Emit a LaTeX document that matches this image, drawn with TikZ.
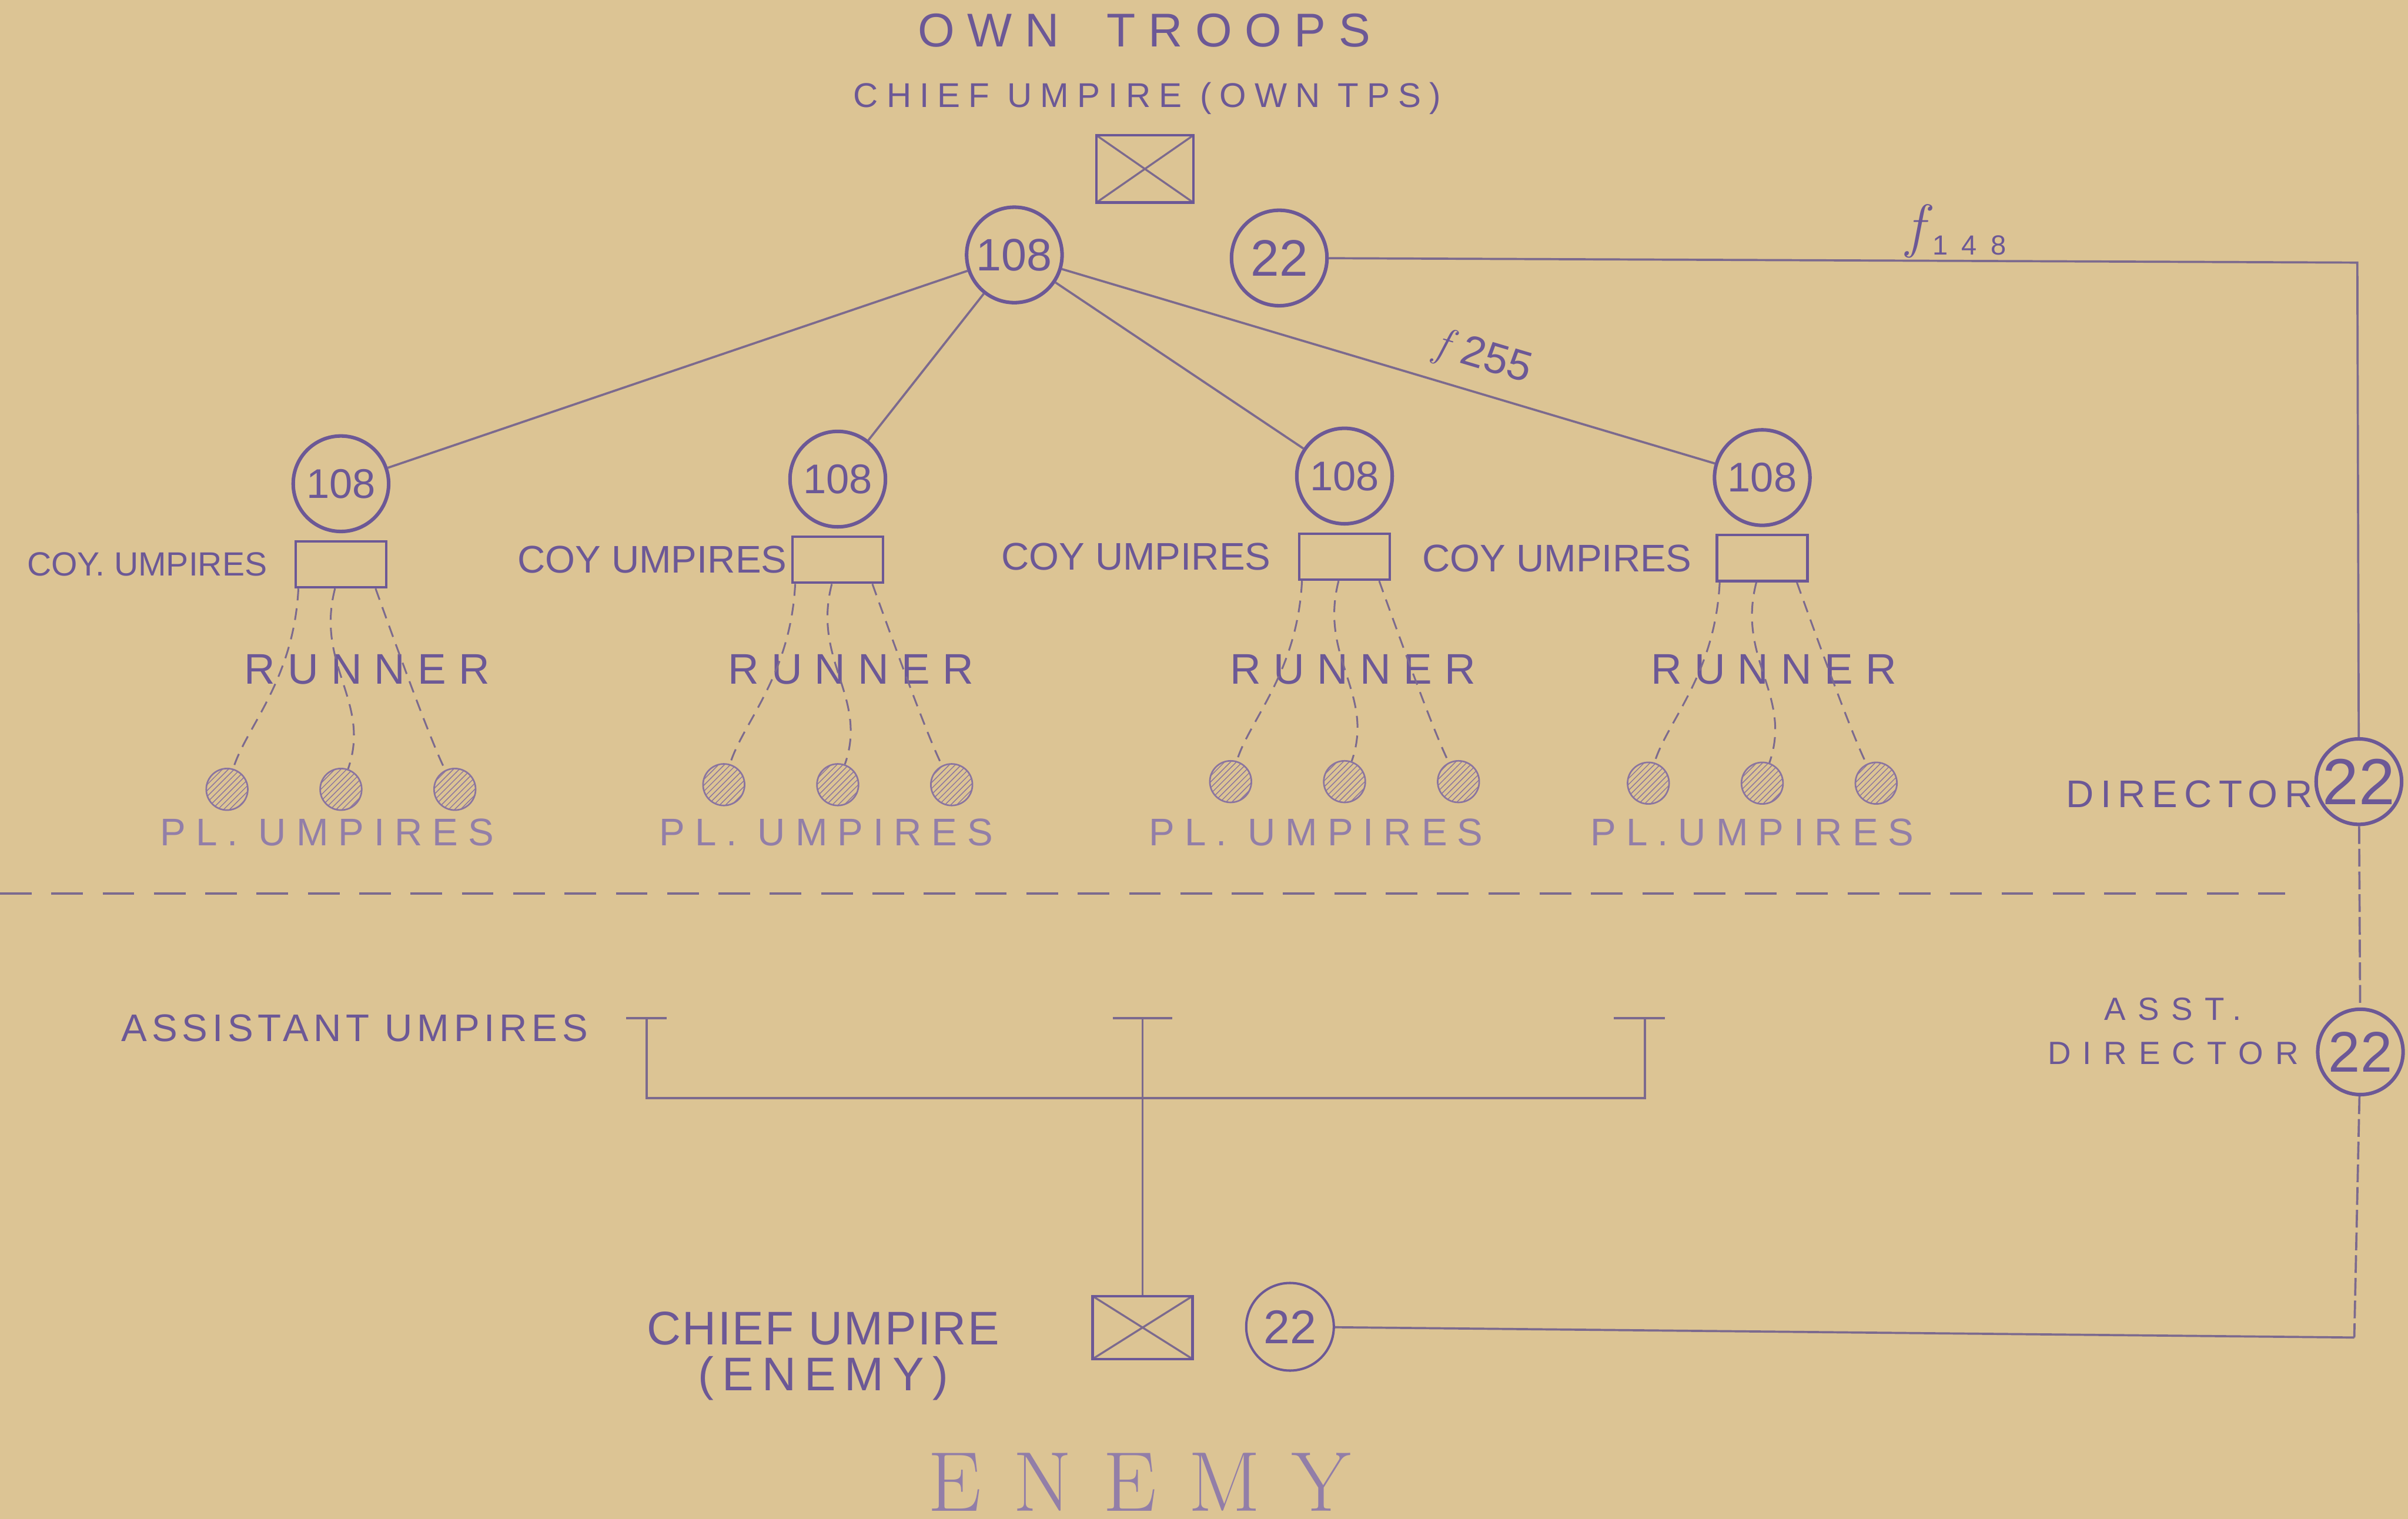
\documentclass[tikz,border=0pt]{standalone}
\usepackage{fontspec}
\usetikzlibrary{calc,positioning,shapes.geometric,patterns}
\newfontfamily\letterfont{Liberation Sans}
\definecolor{paperColor}{RGB}{220,196,148}
\definecolor{inkColor}{RGB}{108,88,150}
\definecolor{lineColor}{RGB}{124,106,142}
\definecolor{hatchColor}{RGB}{138,116,160}
\definecolor{fadeColor}{RGB}{146,126,168}
\newcommand{\headfont}{\letterfont\fontsize{24}{26}\selectfont\addfontfeature{LetterSpace=27}}
\newcommand{\chieffont}{\letterfont\fontsize{17.4}{20}\selectfont\addfontfeature{LetterSpace=24}}
\newcommand{\coyfont}{\letterfont\fontsize{19.5}{22}\selectfont}
\newcommand{\runnerfont}{\letterfont\fontsize{21.7}{24}\selectfont\addfontfeature{LetterSpace=29}}
\newcommand{\plfont}{\letterfont\fontsize{19.5}{22}\selectfont\addfontfeature{LetterSpace=26}}
\newcommand{\dirfont}{\letterfont\fontsize{19.5}{22}\selectfont\addfontfeature{LetterSpace=17}}
\newcommand{\asstfont}{\letterfont\fontsize{16.3}{22.6}\selectfont\addfontfeature{LetterSpace=37}}
\newcommand{\aufont}{\letterfont\fontsize{19.5}{22}\selectfont\addfontfeature{LetterSpace=12}}
\newcommand{\enemyfont}{\letterfont\fontsize{23.9}{23.3}\selectfont\addfontfeature{LetterSpace=3}}
\newcommand{\bigenemyfont}{\rmfamily\fontsize{43}{45}\selectfont}
\newcommand{\unitsize}[1]{\letterfont\fontsize{#1}{#1}\selectfont}
\newcommand{\freqf}{{\rmfamily\itshape f\/}}

\begin{document}
\begin{tikzpicture}[x=0.02735cm, y=-0.02735cm,
    unit/.style={circle, draw=inkColor, line width=1.8pt, inner sep=0pt, text=inkColor},
    hqbox/.style={draw=inkColor, line width=1.3pt, minimum width=1.73cm, minimum height=1.2cm,
      path picture={\draw[lineColor, line width=1pt] (path picture bounding box.north west) -- (path picture bounding box.south east)
        (path picture bounding box.north east) -- (path picture bounding box.south west);}},
    coybox/.style={draw=inkColor, line width=1.3pt, minimum width=1.61cm, minimum height=0.82cm},
    plumpire/.style={circle, draw=hatchColor, line width=0.8pt, pattern=north east lines, pattern color=hatchColor, minimum size=0.74cm},
    lbl/.style={text=inkColor, inner sep=0pt},
    link/.style={draw=lineColor, line width=1.1pt},
    runline/.style={draw=lineColor, line width=0.9pt, dash pattern=on 6pt off 4pt},
    relay/.style={draw=lineColor, line width=1.1pt, dash pattern=on 9pt off 2.5pt},
    sepline/.style={draw=lineColor, line width=1.2pt, dash pattern=on 16pt off 10pt}
  ]
  \path[use as bounding box, fill=paperColor] (0,0) rectangle (1568,989);

  % own troops
  \node[lbl, font=\headfont] (owntitle) at (745,20) {OWN\hspace{1em}TROOPS};
  \node[lbl, font=\chieffont] (chieftitle) at (747,64) {CHIEF UMPIRE (OWN TPS)};
  \node[hqbox] (cuown) at (745.5,110) {};
  \node[unit, minimum size=1.7cm, font=\unitsize{23}] (hq108) at (660.5,166) {108};
  \node[unit, minimum size=1.7cm, font=\unitsize{26}] (hq22) at (833,168) {22};

  % companies
  \node[unit, minimum size=1.7cm, font=\unitsize{21}] (coy1) at (222,315) {108};
  \node[coybox, below=0.12cm of coy1] (coyump1) {};
  \node[lbl, font=\coyfont\fontsize{17}{20}\selectfont, left=0.48cm of coyump1] (coylbl1) {COY. UMPIRES};
  \node[lbl, font=\runnerfont] (run1) at (239,436) {RUNNER};
  \node[plumpire, below=3.19cm of coyump1] (pl1b) {};
  \node[plumpire, left=1.26cm of pl1b] (pl1a) {};
  \node[plumpire, right=1.26cm of pl1b] (pl1c) {};
  \node[lbl, text=fadeColor, font=\plfont] (pllbl1) at (213,542) {PL. UMPIRES};

  \node[unit, minimum size=1.7cm, font=\unitsize{21}] (coy2) at (545.5,312) {108};
  \node[coybox, below=0.12cm of coy2] (coyump2) {};
  \node[lbl, font=\coyfont, left=0.07cm of coyump2] (coylbl2) {COY UMPIRES};
  \node[lbl, font=\runnerfont] (run2) at (554,436) {RUNNER};
  \node[plumpire, below=3.19cm of coyump2] (pl2b) {};
  \node[plumpire, left=1.26cm of pl2b] (pl2a) {};
  \node[plumpire, right=1.26cm of pl2b] (pl2c) {};
  \node[lbl, text=fadeColor, font=\plfont] (pllbl2) at (538,542) {PL. UMPIRES};

  \node[unit, minimum size=1.7cm, font=\unitsize{21}] (coy3) at (875.5,310) {108};
  \node[coybox, below=0.12cm of coy3] (coyump3) {};
  \node[lbl, font=\coyfont, left=0.48cm of coyump3] (coylbl3) {COY UMPIRES};
  \node[lbl, font=\runnerfont] (run3) at (881,436) {RUNNER};
  \node[plumpire, below=3.19cm of coyump3] (pl3b) {};
  \node[plumpire, left=1.26cm of pl3b] (pl3a) {};
  \node[plumpire, right=1.26cm of pl3b] (pl3c) {};
  \node[lbl, text=fadeColor, font=\plfont] (pllbl3) at (857,542) {PL. UMPIRES};

  \node[unit, minimum size=1.7cm, font=\unitsize{21}] (coy4) at (1147.5,311) {108};
  \node[coybox, below=0.12cm of coy4] (coyump4) {};
  \node[lbl, font=\coyfont, left=0.42cm of coyump4] (coylbl4) {COY UMPIRES};
  \node[lbl, font=\runnerfont] (run4) at (1155,436) {RUNNER};
  \node[plumpire, below=3.19cm of coyump4] (pl4b) {};
  \node[plumpire, left=1.26cm of pl4b] (pl4a) {};
  \node[plumpire, right=1.26cm of pl4b] (pl4c) {};
  \node[lbl, text=fadeColor, font=\plfont] (pllbl4) at (1141,542) {PL.UMPIRES};

  \draw[link] (hq108) -- (coy1);
  \draw[link] (hq108) -- (coy2);
  \draw[link] (hq108) -- (coy3);
  \draw[link] (hq108) -- node[lbl, sloped, above=7pt, pos=0.63, font=\unitsize{21.7}] (f255) {\freqf\,255} (coy4);

  % runners
  \draw[runline] ([xshift=2pt]coyump1.south west) .. controls +(-3,60) and +(12,-40) .. (pl1a);
  \draw[runline] ([xshift=-3pt]coyump1.south) .. controls +(-13,50) and +(20,-57) .. (pl1b);
  \draw[runline] ([xshift=-6pt]coyump1.south east) .. controls +(18,50) and +(-15,-30) .. (pl1c);
  \draw[runline] ([xshift=2pt]coyump2.south west) .. controls +(-3,60) and +(12,-40) .. (pl2a);
  \draw[runline] ([xshift=-3pt]coyump2.south) .. controls +(-13,50) and +(20,-57) .. (pl2b);
  \draw[runline] ([xshift=-6pt]coyump2.south east) .. controls +(18,50) and +(-15,-30) .. (pl2c);
  \draw[runline] ([xshift=2pt]coyump3.south west) .. controls +(-3,60) and +(12,-40) .. (pl3a);
  \draw[runline] ([xshift=-3pt]coyump3.south) .. controls +(-13,50) and +(20,-57) .. (pl3b);
  \draw[runline] ([xshift=-6pt]coyump3.south east) .. controls +(18,50) and +(-15,-30) .. (pl3c);
  \draw[runline] ([xshift=2pt]coyump4.south west) .. controls +(-3,60) and +(12,-40) .. (pl4a);
  \draw[runline] ([xshift=-3pt]coyump4.south) .. controls +(-13,50) and +(20,-57) .. (pl4b);
  \draw[runline] ([xshift=-6pt]coyump4.south east) .. controls +(18,50) and +(-15,-30) .. (pl4c);

  \draw[sepline] (0,582) -- (1488,582);

  % directors
  \coordinate (ne) at (1535,171);
  \node[unit, minimum size=1.52cm, font=\unitsize{33}] (dir) at (1536,509) {22};
  \node[lbl, font=\dirfont, anchor=east] (dirlbl) at (1506,517) {DIRECTOR};
  \node[unit, minimum size=1.52cm, font=\unitsize{29}] (asst) at (1537,685) {22};
  \node[lbl, font=\asstfont, align=center] (asstlbl) at (1415,671.5) {ASST.\\DIRECTOR};
  \coordinate (se) at (1533,871);

  % enemy
  \node[hqbox, minimum width=1.78cm, minimum height=1.12cm] (cuenemy) at (744,864.5) {};
  \node[unit, minimum size=1.56cm, line width=1.2pt, font=\unitsize{24}] (e22) at (840,864) {22};
  \node[lbl, font=\enemyfont, align=center] (cuenemylbl) at (536,883) {CHIEF UMPIRE\\{\addfontfeature{LetterSpace=18}(ENEMY)}};
  \node[lbl, text=fadeColor, font=\bigenemyfont] (enemytitle) at (742,965) {E\kern16pt N\kern16pt E\kern16pt M\kern16pt Y};

  \draw[link] (hq22) -- node[lbl, above=1pt, pos=0.61] (f148) {{\rmfamily\itshape\fontsize{30}{30}\selectfont\raisebox{0.15em}{f\/}}{\unitsize{14}\addfontfeature{LetterSpace=50}148}} (ne) -- (dir);
  \draw[relay] (dir) -- (asst);
  \draw[relay] (asst) -- (se);
  \draw[link] (se) -- (e22);

  % assistant umpires
  \node[lbl, font=\aufont] (aulbl) at (231,669.5) {ASSISTANT UMPIRES};
  \coordinate (au1) at (421,663);
  \coordinate (au2) at (744,663);
  \coordinate (au3) at (1071,663);
  \coordinate (aubar) at (744,715);
  \draw[link] ([xshift=-0.36cm]au1) -- ([xshift=0.36cm]au1);
  \draw[link] ([xshift=-0.53cm]au2) -- ([xshift=0.53cm]au2);
  \draw[link] ([xshift=-0.55cm]au3) -- ([xshift=0.36cm]au3);
  \draw[link] (au1) |- (aubar) -| (au3);
  \draw[link] (au2) -- (cuenemy);
\end{tikzpicture}
\end{document}
